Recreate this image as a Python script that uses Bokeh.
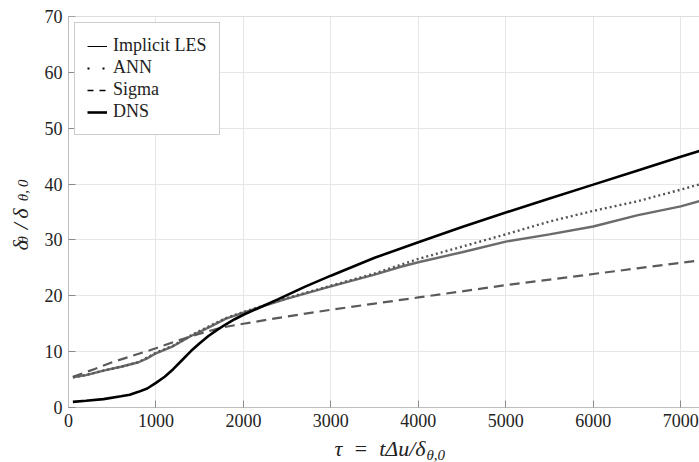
import math
from bokeh.plotting import figure
from bokeh.models import (Range1d, FixedTicker, Legend, LegendItem, Label, Span)
from bokeh.embed import file_html
from bokeh.resources import INLINE

# ---------------- data ----------------
dns_x = [50, 200, 400, 600, 700, 800, 900, 1000, 1100, 1200, 1300, 1400, 1500, 1600,
         1700, 1800, 1900, 2000, 2200, 2400, 2700, 3000, 3500, 4000, 4500, 5000,
         5500, 6000, 6500, 7000, 7250]
dns_y = [1.0, 1.2, 1.5, 2.0, 2.3, 2.8, 3.4, 4.4, 5.5, 6.9, 8.5, 10.1, 11.5, 12.8,
         13.9, 14.9, 15.8, 16.6, 18.0, 19.4, 21.6, 23.6, 26.8, 29.6, 32.3, 34.9,
         37.4, 39.9, 42.4, 44.9, 46.1]

les_x = [50, 200, 400, 600, 800, 900, 1000, 1200, 1400, 1600, 1800, 2000, 2200, 2500,
         3000, 3500, 3800, 4000, 4500, 5000, 5500, 6000, 6500, 7000, 7250]
les_y = [5.4, 5.8, 6.6, 7.3, 8.1, 8.8, 9.7, 11.0, 12.8, 14.3, 15.9, 17.0, 18.0, 19.5,
         21.7, 23.8, 25.2, 26.0, 27.8, 29.7, 31.0, 32.4, 34.4, 36.0, 37.1]

ann_x = [50, 200, 400, 600, 800, 1000, 1200, 1400, 1600, 1800, 2000, 2200, 2500, 3000,
         3500, 4000, 4500, 5000, 5500, 6000, 6500, 7000, 7250]
ann_y = [5.4, 5.8, 6.6, 7.3, 8.1, 9.8, 11.1, 12.9, 14.5, 16.0, 17.1, 18.1, 19.6, 21.8,
         24.0, 26.6, 28.8, 31.0, 33.3, 35.2, 36.9, 39.0, 40.1]

sig_x = [50, 300, 500, 700, 1000, 1250, 1500, 1750, 2000, 2500, 3000, 3500, 4000,
         4500, 5000, 5500, 6000, 6500, 7000, 7250]
sig_y = [5.5, 6.9, 8.1, 9.1, 10.6, 12.0, 13.2, 14.3, 15.0, 16.3, 17.5, 18.6, 19.7,
         20.8, 21.9, 22.9, 23.9, 24.9, 25.9, 26.4]

x_ticks = [0, 1000, 2000, 3000, 4000, 5000, 6000, 7000]
y_ticks = [0, 10, 20, 30, 40, 50, 60, 70]
legend_labels = ["Implicit LES", "ANN", "Sigma", "DNS"]

FONT = "Liberation Serif"
AX = "#bdbdbd"
TXT = "#222222"

p = figure(width=699, height=462, output_backend="svg", toolbar_location=None,
           x_range=Range1d(0, 7215), y_range=Range1d(0, 70),
           min_border_left=62, min_border_right=0, min_border_top=14,
           min_border_bottom=55)
p.outline_line_color = None
p.background_fill_color = "white"
p.border_fill_color = "white"

for ax in (p.xaxis[0], p.yaxis[0]):
    ax.axis_line_color = AX
    ax.major_tick_line_color = "#8a8a8a"
    ax.major_tick_in = 7
    ax.major_tick_out = 0
    ax.minor_tick_line_color = None
    ax.major_label_text_font = FONT
    ax.major_label_text_font_size = "18px"
    ax.major_label_text_color = TXT
p.xaxis[0].ticker = FixedTicker(ticks=x_ticks)
p.yaxis[0].ticker = FixedTicker(ticks=y_ticks)
p.xaxis[0].major_label_standoff = 6
p.yaxis[0].major_label_standoff = 6

p.add_layout(Span(location=70, dimension="width", line_color=AX, line_width=1))

p.xgrid.ticker = FixedTicker(ticks=x_ticks)
p.ygrid.ticker = FixedTicker(ticks=y_ticks)
p.grid.grid_line_color = "#e6e6e6"
p.grid.grid_line_width = 1

# ---------------- data lines ----------------
p.line(les_x, les_y, line_color="#6b6b6b", line_width=2.4)
p.line(ann_x, ann_y, line_color="#555555", line_width=2.4, line_dash="2 3")
p.line(sig_x, sig_y, line_color="#5a5a5a", line_width=2.2, line_dash="10 6")
p.line(dns_x, dns_y, line_color="black", line_width=2.6)

# ---------------- legend (black legend glyphs as in reference) ----------------
r1 = p.line(les_x, les_y, line_color="black", line_width=1, visible=False)
r2 = p.line(ann_x, ann_y, line_color="black", line_width=2, line_dash="2 13", visible=False)
r3 = p.line(sig_x, sig_y, line_color="black", line_width=1.5, line_dash="6 6", visible=False)
r4 = p.line(dns_x, dns_y, line_color="black", line_width=2.6, visible=False)
leg = Legend(items=[LegendItem(label=legend_labels[i], renderers=[r])
                    for i, r in enumerate([r1, r2, r3, r4])],
             location="top_left", margin=6, padding=12, spacing=1,
             label_height=20, glyph_height=20, glyph_width=20, label_standoff=6,
             label_text_font=FONT, label_text_font_size="18px",
             label_text_color=TXT, border_line_color="#9a9a9a", border_line_width=1,
             background_fill_color="white", background_fill_alpha=1,
             inactive_fill_alpha=0, click_policy="none")
p.add_layout(leg)

# ---------------- axis titles (text with subscripts) ----------------
def lab(text, x, y, size, side, angle=0.0, align="left"):
    p.add_layout(Label(x=x, y=y, x_units="screen", y_units="screen", text=text,
                       text_font=FONT, text_font_style="italic",
                       text_font_size=size, text_color=TXT, angle=angle,
                       text_align=align, text_baseline="alphabetic"), side)

# x label: tau = t Delta u / delta_{theta,0}
lab("τ\u2002=\u2002tΔu/δ", 357, 6, "22px", "below", align="right")
lab("θ,0", 358, -438, "15px", "above")

# y label: delta_theta / delta_{theta,0}
a = math.pi / 2
lab("δ\u2002/\u2009δ", 4, 157, "22px", "left", angle=a)
lab("θ\u2003\u2003\u2004θ,\u20090", 22, 164, "15px", "left", angle=a)

open("out.html", "w").write(file_html(p, INLINE))
